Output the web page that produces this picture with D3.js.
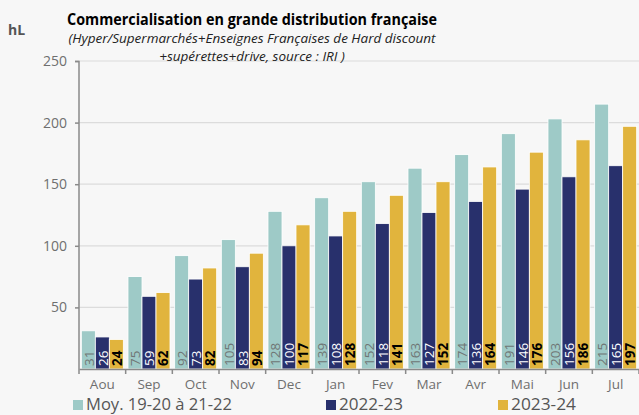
<!DOCTYPE html>
<html>
<head>
<meta charset="utf-8">
<script src="https://cdn.jsdelivr.net/npm/d3@7"></script>
<style>
  body { margin: 0; background: #f7f7f7; }
  .canvas { width: 639px; height: 415px; }
  text { font-family: "Open Sans", "Noto Sans", sans-serif; }
</style>
</head>
<body>
<div class="canvas"></div>
<script>
// data
const months = ['Aou', 'Sep', 'Oct', 'Nov', 'Dec', 'Jan', 'Fev', 'Mar', 'Avr', 'Mai', 'Jun', 'Jul'];
const seriesNames = ['Moy. 19-20 à 21-22', '2022-23', '2023-24'];
const avg1922 = [31, 75, 92, 105, 128, 139, 152, 163, 174, 191, 203, 215];
const s2223 = [26, 59, 73, 83, 100, 108, 118, 127, 136, 146, 156, 165];
const s2324 = [24, 62, 82, 94, 117, 128, 141, 152, 164, 176, 186, 197];
const yTicks = [50, 100, 150, 200, 250];

const colors = ['#9ecac7', '#28306c', '#e1b43d'];
const labelColors = ['#6f7675', '#ffffff', '#000000'];
const labelWeights = ['normal', 'normal', 'bold'];

const margin = { top: 61, right: 0, bottom: 46, left: 79 };
const width = 639, height = 415;
const graphWidth = width - margin.left - margin.right;
const graphHeight = height - margin.top - margin.bottom;

const svg = d3.select('.canvas').append('svg')
    .attr('width', width)
    .attr('height', height);

const graph = svg.append('g')
    .attr('transform', `translate(${margin.left}, ${margin.top})`);

const y = d3.scaleLinear().domain([0, 250]).range([graphHeight, 0]);
const x = d3.scaleBand().domain(months).range([0, graphWidth]).paddingInner(0.1).paddingOuter(0.05);
const xs = d3.scaleBand().domain(d3.range(3)).range([0, x.bandwidth()]);

// grid
graph.append('g').selectAll('line').data(yTicks).join('line')
    .attr('x1', 0).attr('x2', graphWidth)
    .attr('y1', d => y(d)).attr('y2', d => y(d))
    .attr('stroke', '#dcdcdc').attr('stroke-width', 1.2);

// bars
const rows = months.map((m, i) => ({ month: m, vals: [avg1922[i], s2223[i], s2324[i]] }));
const groups = graph.selectAll('g.grp').data(rows).join('g')
    .attr('class', 'grp')
    .attr('transform', d => `translate(${x(d.month)},0)`);

groups.selectAll('rect').data(d => d.vals).join('rect')
    .attr('x', (d, i) => xs(i))
    .attr('y', d => y(d))
    .attr('width', xs.bandwidth())
    .attr('height', d => graphHeight - y(d))
    .attr('fill', (d, i) => colors[i])
    .attr('stroke', '#ffffff')
    .attr('stroke-width', 0.8);

groups.selectAll('text').data(d => d.vals).join('text')
    .attr('transform', (d, i) => `translate(${xs(i) + xs.bandwidth() / 2 + 0.5},${graphHeight - 3}) rotate(-90)`)
    .attr('dy', '0.35em')
    .attr('font-size', 13.5)
    .attr('fill', (d, i) => labelColors[i])
    .attr('font-weight', (d, i) => labelWeights[i])
    .text(d => d);

// axes
const yAxis = graph.append('g')
    .call(d3.axisLeft(y).tickValues(yTicks).tickSize(4).tickPadding(8));
yAxis.select('.domain').attr('stroke', '#8a8a8a').attr('stroke-width', 1.5)
    .attr('d', `M-4,0.5H0V${graphHeight}`);
yAxis.selectAll('.tick line').attr('stroke', '#8a8a8a').attr('stroke-width', 1.5);
yAxis.selectAll('.tick text').attr('fill', '#6f6f6f').attr('font-size', 14)
    .attr('font-family', '"Open Sans", sans-serif');

const xAxis = graph.append('g')
    .attr('transform', `translate(0,${graphHeight})`)
    .call(d3.axisBottom(x).tickSize(0).tickPadding(10));
xAxis.select('.domain').attr('stroke', '#8a8a8a').attr('stroke-width', 1.5);
xAxis.selectAll('.tick text').attr('fill', '#6f6f6f').attr('font-size', 13.5)
    .attr('font-family', '"Open Sans", sans-serif');
// tick marks between categories
const bounds = months.map(m => x(m) - x.step() * x.paddingInner() / 2).concat([graphWidth]);
xAxis.append('g').selectAll('line').data(bounds).join('line')
    .attr('x1', d => d).attr('x2', d => d)
    .attr('y1', 0).attr('y2', 5)
    .attr('stroke', '#8a8a8a').attr('stroke-width', 1.5);

// titles
svg.append('text').attr('x', 8).attr('y', 35)
    .attr('font-size', 14).attr('font-weight', 'bold').attr('fill', '#555')
    .text('hL');
svg.append('text').attr('x', 252).attr('y', 25)
    .attr('text-anchor', 'middle').attr('font-size', 16).attr('font-weight', 'bold').attr('fill', '#000')
    .attr('textLength', 370).attr('lengthAdjust', 'spacingAndGlyphs')
    .text('Commercialisation en grande distribution française');
svg.append('text').attr('x', 252).attr('y', 43)
    .attr('text-anchor', 'middle').attr('font-size', 13.5).attr('font-style', 'italic').attr('fill', '#222')
    .text('(Hyper/Supermarchés+Enseignes Françaises de Hard discount');
svg.append('text').attr('x', 252).attr('y', 61)
    .attr('text-anchor', 'middle').attr('font-size', 13.5).attr('font-style', 'italic').attr('fill', '#222')
    .text('+supérettes+drive, source : IRI )');

// legend
const legendX = [73, 326, 498];
const legend = svg.append('g').selectAll('g').data(seriesNames).join('g')
    .attr('transform', (d, i) => `translate(${legendX[i]},400)`);
legend.append('rect').attr('width', 10).attr('height', 10)
    .attr('fill', (d, i) => colors[i]);
legend.append('text').attr('x', 13).attr('y', 5).attr('dy', '0.35em')
    .attr('font-size', 15.5).attr('fill', '#555')
    .attr('textLength', (d, i) => [146, 64, 65][i]).attr('lengthAdjust', 'spacingAndGlyphs')
    .text(d => d);
</script>
</body>
</html>
